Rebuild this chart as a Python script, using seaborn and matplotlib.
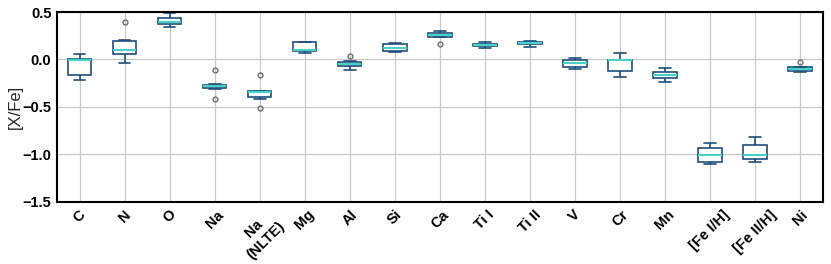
import matplotlib
matplotlib.use("Agg")
import matplotlib.pyplot as plt
import seaborn as sns
import pandas as pd

categories = ["C", "N", "O", "Na", "Na\n(NLTE)", "Mg", "Al", "Si", "Ca", "Ti I",
              "Ti II", "V", "Cr", "Mn", "[Fe I/H]", "[Fe II/H]", "Ni"]

# nine sample values per species (sorted)
C_vals = [-0.22, -0.158, -0.158, -0.01, -0.01, -0.01, 0.0, 0.0, 0.053]
N_vals = [-0.042, 0.056, 0.056, 0.105, 0.105, 0.105, 0.19, 0.21, 0.40]
O_vals = [0.347, 0.372, 0.372, 0.396, 0.396, 0.396, 0.442, 0.442, 0.487]
Na_vals = [-0.415, -0.31, -0.302, -0.284, -0.284, -0.284, -0.27, -0.263, -0.109]
NaNLTE_vals = [-0.51, -0.415, -0.40, -0.345, -0.345, -0.345, -0.334, -0.334, -0.168]
Mg_vals = [0.07, 0.09, 0.09, 0.105, 0.105, 0.105, 0.179, 0.179, 0.179]
Al_vals = [-0.113, -0.071, -0.071, -0.05, -0.05, -0.05, -0.028, -0.018, 0.04]
Si_vals = [0.08, 0.087, 0.087, 0.126, 0.126, 0.126, 0.164, 0.164, 0.175]
Ca_vals = [0.161, 0.235, 0.238, 0.259, 0.259, 0.259, 0.284, 0.284, 0.30]
TiI_vals = [0.116, 0.137, 0.137, 0.154, 0.154, 0.154, 0.168, 0.168, 0.179]
TiII_vals = [0.13, 0.158, 0.158, 0.175, 0.175, 0.175, 0.185, 0.185, 0.196]
V_vals = [-0.095, -0.074, -0.074, -0.036, -0.036, -0.036, -0.01, -0.01, 0.021]
Cr_vals = [-0.183, -0.116, -0.116, -0.01, -0.01, -0.01, -0.004, -0.004, 0.07]
Mn_vals = [-0.242, -0.19, -0.19, -0.158, -0.158, -0.158, -0.13, -0.13, -0.092]
FeI_vals = [-1.10, -1.074, -1.074, -1.004, -1.004, -1.004, -0.93, -0.93, -0.874]
FeII_vals = [-1.084, -1.05, -1.05, -1.007, -1.007, -1.007, -0.90, -0.90, -0.82]
Ni_vals = [-0.13, -0.116, -0.116, -0.102, -0.102, -0.102, -0.083, -0.083, -0.025]

series = [C_vals, N_vals, O_vals, Na_vals, NaNLTE_vals, Mg_vals, Al_vals, Si_vals,
          Ca_vals, TiI_vals, TiII_vals, V_vals, Cr_vals, Mn_vals, FeI_vals,
          FeII_vals, Ni_vals]

rows = []
for cat, vals in zip(categories, series):
    for v in vals:
        rows.append({"species": cat, "value": v})
df = pd.DataFrame(rows)

sns.set_style("white")
plt.rcParams['font.family'] = ['Liberation Sans', 'DejaVu Sans']

fig = plt.figure(figsize=(8.31, 2.64), dpi=100)
ax = fig.add_axes([0.0686, 0.235, 0.9214, 0.7195])

box_col = "#1f4f7a"
med_col = "#48d1c8"
sns.boxplot(data=df, x="species", y="value", order=categories, ax=ax,
            width=0.52, color="white", linewidth=1.2,
            boxprops=dict(facecolor="white", edgecolor=box_col),
            whiskerprops=dict(color=box_col),
            capprops=dict(color=box_col),
            medianprops=dict(color=med_col, linewidth=1.5),
            flierprops=dict(marker="o", markersize=3.5, markerfacecolor="none",
                            markeredgecolor="#707070", markeredgewidth=1.0))

ax.set_ylim(-1.5, 0.5)
ax.set_xlim(-0.5, len(categories) - 0.5)
ax.set_yticks([-1.5, -1.0, -0.5, 0.0, 0.5])
ax.grid(True, color="#c8c8c8", linewidth=0.9)
ax.set_axisbelow(True)
ax.set_xlabel("")
ax.set_ylabel("[X/Fe]", fontsize=12)
ax.yaxis.set_label_coords(-0.045, 0.5)
ax.tick_params(direction="in", length=4, width=1.2, colors="black", labelsize=10.5, pad=4)
for lab in ax.get_xticklabels():
    lab.set_rotation(45)
    lab.set_ha("center")
    lab.set_fontweight("bold")
for lab in ax.get_yticklabels():
    lab.set_fontweight("bold")
for s in ax.spines.values():
    s.set_visible(True)
    s.set_color("black")
    s.set_linewidth(1.5)

fig.savefig("out.png", dpi=100)
